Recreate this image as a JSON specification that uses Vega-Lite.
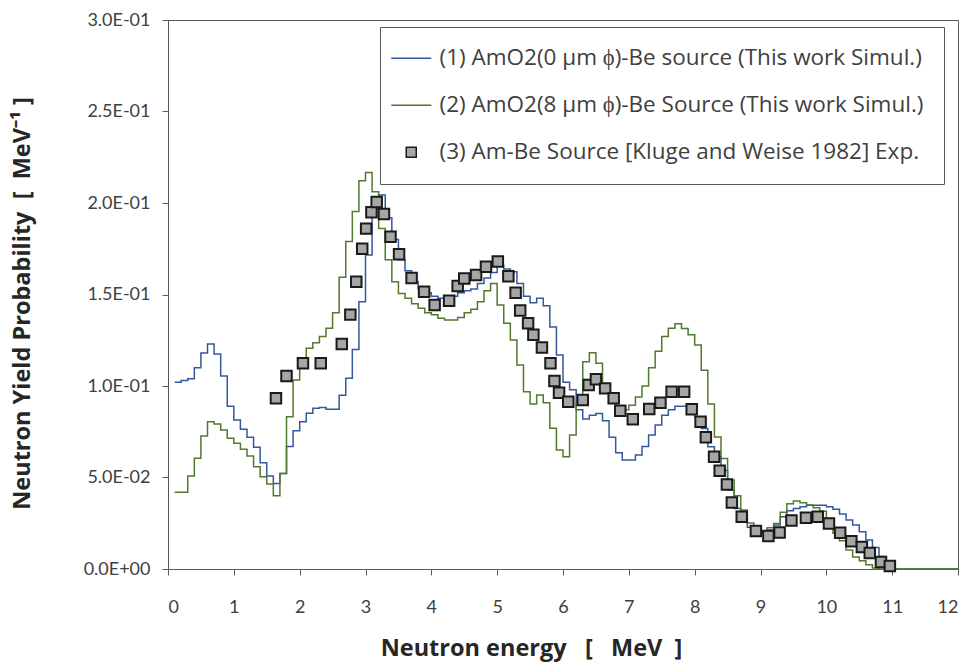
{
  "$schema": "https://vega.github.io/schema/vega-lite/v6.json",
  "width": 790,
  "height": 549,
  "autosize": {"type": "none"},
  "padding": {"left": 168, "top": 20, "right": 16, "bottom": 95},
  "background": "white",
  "config": {
    "view": {"stroke": "#595959", "strokeWidth": 1},
    "font": "Open Sans",
    "axis": {
      "grid": false,
      "domainColor": "#595959",
      "tickColor": "#595959",
      "tickSize": 6,
      "labelFont": "Lato",
      "labelFontSize": 18,
      "labelColor": "#404040",
      "titleFont": "Open Sans",
      "titleFontSize": 23.5,
      "titleFontWeight": "bold",
      "titleColor": "#262626"
    }
  },
  "datasets": {
    "blue": [
      {"E":0.1,"v":0.102},{"E":0.2,"v":0.103},{"E":0.3,"v":0.104},{"E":0.4,"v":0.110},{"E":0.5,"v":0.118},
      {"E":0.6,"v":0.123},{"E":0.7,"v":0.1175},{"E":0.8,"v":0.1055},{"E":0.9,"v":0.089},{"E":1.0,"v":0.0814},
      {"E":1.1,"v":0.0763},{"E":1.2,"v":0.072},{"E":1.3,"v":0.0665},{"E":1.4,"v":0.058},{"E":1.5,"v":0.0508},
      {"E":1.6,"v":0.0467},{"E":1.7,"v":0.0522},{"E":1.8,"v":0.067},{"E":1.9,"v":0.0756},{"E":2.0,"v":0.0805},
      {"E":2.1,"v":0.0851},{"E":2.2,"v":0.0878},{"E":2.3,"v":0.0883},{"E":2.4,"v":0.0873},{"E":2.5,"v":0.0873},
      {"E":2.6,"v":0.0949},{"E":2.7,"v":0.1042},{"E":2.8,"v":0.120},{"E":2.9,"v":0.146},{"E":3.0,"v":0.1716},
      {"E":3.1,"v":0.197},{"E":3.2,"v":0.2044},{"E":3.3,"v":0.192},{"E":3.4,"v":0.180},{"E":3.5,"v":0.169},
      {"E":3.6,"v":0.163},{"E":3.7,"v":0.157},{"E":3.8,"v":0.153},{"E":3.9,"v":0.151},{"E":4.0,"v":0.149},
      {"E":4.1,"v":0.148},{"E":4.2,"v":0.148},{"E":4.3,"v":0.149},{"E":4.4,"v":0.151},{"E":4.5,"v":0.152},
      {"E":4.6,"v":0.153},{"E":4.7,"v":0.156},{"E":4.8,"v":0.159},{"E":4.9,"v":0.162},{"E":5.0,"v":0.166},
      {"E":5.1,"v":0.164},{"E":5.2,"v":0.1625},{"E":5.3,"v":0.156},{"E":5.4,"v":0.149},{"E":5.5,"v":0.1455},
      {"E":5.6,"v":0.148},{"E":5.7,"v":0.1438},{"E":5.8,"v":0.1323},{"E":5.9,"v":0.117},{"E":6.0,"v":0.102},
      {"E":6.1,"v":0.098},{"E":6.2,"v":0.087},{"E":6.3,"v":0.082},{"E":6.4,"v":0.084},{"E":6.5,"v":0.085},
      {"E":6.6,"v":0.081},{"E":6.7,"v":0.072},{"E":6.8,"v":0.0635},{"E":6.9,"v":0.0596},{"E":7.0,"v":0.0596},
      {"E":7.1,"v":0.0623},{"E":7.2,"v":0.067},{"E":7.3,"v":0.0732},{"E":7.4,"v":0.0787},{"E":7.5,"v":0.084},
      {"E":7.6,"v":0.087},{"E":7.7,"v":0.089},{"E":7.8,"v":0.089},{"E":7.9,"v":0.087},{"E":8.0,"v":0.083},
      {"E":8.1,"v":0.0768},{"E":8.2,"v":0.0668},{"E":8.3,"v":0.0613},{"E":8.4,"v":0.054},{"E":8.5,"v":0.0432},
      {"E":8.6,"v":0.0331},{"E":8.7,"v":0.0277},{"E":8.8,"v":0.0228},{"E":8.9,"v":0.0204},{"E":9.0,"v":0.0204},
      {"E":9.1,"v":0.0213},{"E":9.2,"v":0.024},{"E":9.3,"v":0.0286},{"E":9.4,"v":0.0318},{"E":9.5,"v":0.0331},
      {"E":9.6,"v":0.034},{"E":9.7,"v":0.0349},{"E":9.8,"v":0.0349},{"E":9.9,"v":0.0349},{"E":10.0,"v":0.034},
      {"E":10.1,"v":0.0326},{"E":10.2,"v":0.0301},{"E":10.3,"v":0.0268},{"E":10.4,"v":0.024},{"E":10.5,"v":0.0204},
      {"E":10.6,"v":0.0158},{"E":10.7,"v":0.0118},{"E":10.8,"v":0.0068},{"E":10.9,"v":0.0031},{"E":11.0,"v":0},
      {"E":12.0,"v":0}
    ],
    "green": [
      {"E":0.1,"v":0.042},{"E":0.2,"v":0.042},{"E":0.3,"v":0.0508},{"E":0.4,"v":0.0605},{"E":0.5,"v":0.0727},
      {"E":0.6,"v":0.0805},{"E":0.7,"v":0.0792},{"E":0.8,"v":0.076},{"E":0.9,"v":0.0714},{"E":1.0,"v":0.0687},
      {"E":1.1,"v":0.0654},{"E":1.2,"v":0.0617},{"E":1.3,"v":0.0559},{"E":1.4,"v":0.0504},{"E":1.5,"v":0.0464},
      {"E":1.6,"v":0.040},{"E":1.7,"v":0.0522},{"E":1.8,"v":0.0832},{"E":1.9,"v":0.1033},{"E":2.0,"v":0.1124},
      {"E":2.1,"v":0.1206},{"E":2.2,"v":0.1237},{"E":2.3,"v":0.127},{"E":2.4,"v":0.1315},{"E":2.5,"v":0.140},
      {"E":2.6,"v":0.1594},{"E":2.7,"v":0.1789},{"E":2.8,"v":0.1953},{"E":2.9,"v":0.2122},{"E":3.0,"v":0.2166},
      {"E":3.1,"v":0.2062},{"E":3.2,"v":0.186},{"E":3.3,"v":0.169},{"E":3.4,"v":0.157},{"E":3.5,"v":0.1505},
      {"E":3.6,"v":0.148},{"E":3.7,"v":0.145},{"E":3.8,"v":0.1425},{"E":3.9,"v":0.140},{"E":4.0,"v":0.139},
      {"E":4.1,"v":0.137},{"E":4.2,"v":0.136},{"E":4.3,"v":0.136},{"E":4.4,"v":0.1375},{"E":4.5,"v":0.140},
      {"E":4.6,"v":0.142},{"E":4.7,"v":0.146},{"E":4.8,"v":0.152},{"E":4.9,"v":0.156},{"E":5.0,"v":0.1443},
      {"E":5.1,"v":0.1343},{"E":5.2,"v":0.1251},{"E":5.3,"v":0.1115},{"E":5.4,"v":0.0969},{"E":5.5,"v":0.0902},
      {"E":5.6,"v":0.0951},{"E":5.7,"v":0.0909},{"E":5.8,"v":0.0769},{"E":5.9,"v":0.065},{"E":6.0,"v":0.0614},
      {"E":6.1,"v":0.0732},{"E":6.2,"v":0.0905},{"E":6.3,"v":0.1133},{"E":6.4,"v":0.1182},{"E":6.5,"v":0.1124},
      {"E":6.6,"v":0.098},{"E":6.7,"v":0.092},{"E":6.8,"v":0.089},{"E":6.9,"v":0.087},{"E":7.0,"v":0.0895},
      {"E":7.1,"v":0.094},{"E":7.2,"v":0.100},{"E":7.3,"v":0.110},{"E":7.4,"v":0.119},{"E":7.5,"v":0.127},
      {"E":7.6,"v":0.1315},{"E":7.7,"v":0.134},{"E":7.8,"v":0.1314},{"E":7.9,"v":0.128},{"E":8.0,"v":0.1224},
      {"E":8.1,"v":0.1086},{"E":8.2,"v":0.0902},{"E":8.3,"v":0.0721},{"E":8.4,"v":0.0604},{"E":8.5,"v":0.0486},
      {"E":8.6,"v":0.040},{"E":8.7,"v":0.0322},{"E":8.8,"v":0.0251},{"E":8.9,"v":0.0215},{"E":9.0,"v":0.0208},
      {"E":9.1,"v":0.0225},{"E":9.2,"v":0.0248},{"E":9.3,"v":0.031},{"E":9.4,"v":0.0357},{"E":9.5,"v":0.0372},
      {"E":9.6,"v":0.0362},{"E":9.7,"v":0.035},{"E":9.8,"v":0.0335},{"E":9.9,"v":0.0315},{"E":10.0,"v":0.0275},
      {"E":10.1,"v":0.0195},{"E":10.2,"v":0.0155},{"E":10.3,"v":0.0104},{"E":10.4,"v":0.0066},{"E":10.5,"v":0.0045},
      {"E":10.6,"v":0.0023},{"E":10.7,"v":0.0006},{"E":10.8,"v":0},{"E":12.0,"v":0}
    ],
    "exp": [
      {"E":1.64,"v":0.0933},{"E":1.80,"v":0.1055},{"E":2.05,"v":0.1124},{"E":2.32,"v":0.1124},{"E":2.64,"v":0.123},
      {"E":2.77,"v":0.139},{"E":2.86,"v":0.157},{"E":2.95,"v":0.175},{"E":3.01,"v":0.186},{"E":3.09,"v":0.195},
      {"E":3.17,"v":0.2005},{"E":3.28,"v":0.194},{"E":3.38,"v":0.1816},{"E":3.51,"v":0.172},{"E":3.70,"v":0.159},
      {"E":3.89,"v":0.1515},{"E":4.05,"v":0.1443},{"E":4.27,"v":0.1466},{"E":4.40,"v":0.1546},{"E":4.50,"v":0.1588},
      {"E":4.68,"v":0.1607},{"E":4.83,"v":0.1652},{"E":5.01,"v":0.168},{"E":5.17,"v":0.160},{"E":5.28,"v":0.151},
      {"E":5.35,"v":0.1412},{"E":5.47,"v":0.1343},{"E":5.55,"v":0.128},{"E":5.68,"v":0.121},{"E":5.81,"v":0.1124},
      {"E":5.87,"v":0.1027},{"E":5.94,"v":0.0963},{"E":6.08,"v":0.0914},{"E":6.30,"v":0.0923},{"E":6.39,"v":0.1005},
      {"E":6.50,"v":0.1037},{"E":6.64,"v":0.0987},{"E":6.77,"v":0.0933},{"E":6.87,"v":0.0865},{"E":7.06,"v":0.0818},
      {"E":7.31,"v":0.0874},{"E":7.48,"v":0.0909},{"E":7.65,"v":0.0969},{"E":7.84,"v":0.0969},{"E":7.955,"v":0.0873},
      {"E":8.09,"v":0.0805},{"E":8.17,"v":0.072},{"E":8.295,"v":0.0614},{"E":8.38,"v":0.0537},{"E":8.49,"v":0.0462},
      {"E":8.565,"v":0.0364},{"E":8.715,"v":0.0286},{"E":8.93,"v":0.0208},{"E":9.12,"v":0.018},{"E":9.29,"v":0.0200},
      {"E":9.47,"v":0.0265},{"E":9.69,"v":0.028},{"E":9.87,"v":0.0286},{"E":10.04,"v":0.0248},{"E":10.21,"v":0.0198},
      {"E":10.38,"v":0.0151},{"E":10.54,"v":0.012},{"E":10.66,"v":0.0087},{"E":10.83,"v":0.0038},{"E":10.965,"v":0.0017}
    ]
  },
  "encoding": {
    "x": {
      "field": "E", "type": "quantitative",
      "scale": {"domain": [0, 12], "nice": false, "zero": false},
      "axis": {
        "values": [0,1,2,3,4,5,6,7,8,9,10,11,12],
        "labelPadding": 23,
        "title": "Neutron energy\u00a0\u00a0\u00a0[\u00a0\u00a0\u00a0MeV\u00a0\u00a0]",
        "titleX": 363, "titleY": 79, "titleBaseline": "middle", "titleAlign": "center"
      }
    },
    "y": {
      "field": "v", "type": "quantitative",
      "scale": {"domain": [0, 0.3], "nice": false},
      "axis": {
        "values": [0, 0.05, 0.1, 0.15, 0.2, 0.25, 0.3],
        "labelExpr": "['0.0E+00','5.0E-02','1.0E-01','1.5E-01','2.0E-01','2.5E-01','3.0E-01'][round(datum.value*20)]",
        "labelPadding": 12,
        "title": "Neutron Yield Probability\u00a0\u00a0[\u00a0\u00a0MeV⁻¹\u00a0]",
        "titleX": -146, "titleY": 283, "titleBaseline": "middle", "titleAlign": "center", "titleAngle": -90
      }
    }
  },
  "layer": [
    {
      "data": {"name": "blue"},
      "mark": {"type": "line", "interpolate": "step-after", "strokeWidth": 1.5},
      "encoding": {
        "stroke": {
          "datum": "(1) AmO2(0 µm ϕ)-Be source (This work Simul.)",
          "scale": {
            "domain": ["(1) AmO2(0 µm ϕ)-Be source (This work Simul.)", "(2) AmO2(8 µm ϕ)-Be Source (This work Simul.)", "(3) Am-Be Source [Kluge and Weise 1982] Exp."],
            "range": ["#34589e", "#52792f", "#1a1a1a"]
          },
          "legend": {
            "title": null,
            "orient": "none",
            "legendX": 212,
            "legendY": 7,
            "direction": "vertical",
            "strokeColor": "#595959",
            "fillColor": "white",
            "padding": 20,
            "rowPadding": 24,
            "labelFont": "Open Sans",
            "labelFontSize": 22.5,
            "labelColor": "#404040",
            "labelLimit": 800,
            "labelOffset": 17,
            "symbolType": "stroke",
            "symbolSize": 1600,
            "symbolStrokeWidth": 1.5,
            "encode": {
              "symbols": {
                "update": {
                  "shape": {"signal": "datum.index === 2 ? 'square' : 'stroke'"},
                  "size": {"signal": "datum.index === 2 ? 100 : 1600"},
                  "fill": {"signal": "datum.index === 2 ? '#a6a6a6' : 'transparent'"},
                  "strokeWidth": {"signal": "datum.index === 2 ? 1.5 : 1.5"}
                }
              }
            }
          }
        }
      }
    },
    {
      "data": {"name": "green"},
      "mark": {"type": "line", "interpolate": "step-after", "strokeWidth": 1.5},
      "encoding": {
        "stroke": {"datum": "(2) AmO2(8 µm ϕ)-Be Source (This work Simul.)"}
      }
    },
    {
      "data": {"name": "exp"},
      "mark": {"type": "point", "shape": "square", "filled": false, "fill": "#a6a6a6", "fillOpacity": 1, "opacity": 1, "size": 110, "strokeWidth": 2},
      "encoding": {
        "stroke": {"datum": "(3) Am-Be Source [Kluge and Weise 1982] Exp."}
      }
    }
  ]
}
